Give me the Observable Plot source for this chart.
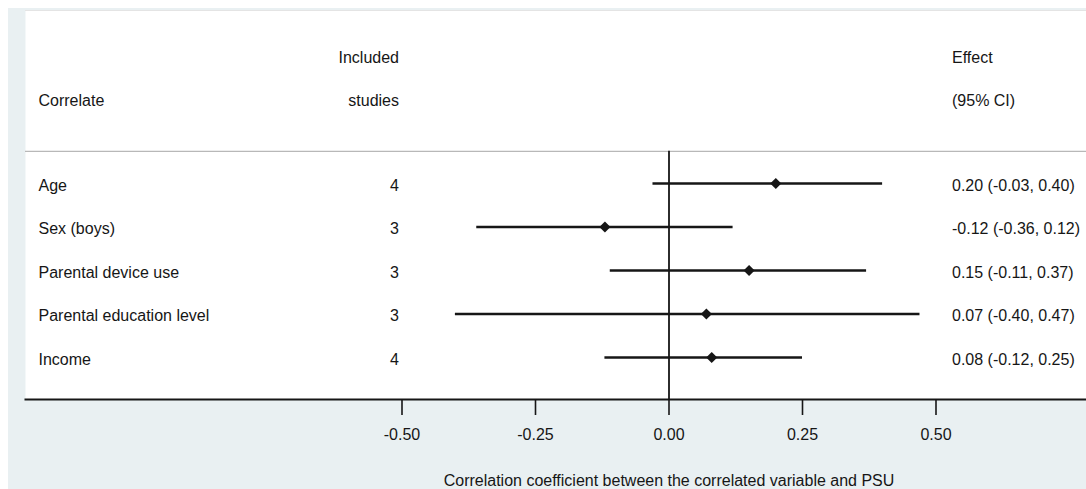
<!DOCTYPE html>
<html>
<head>
<meta charset="utf-8">
<script src="https://cdn.jsdelivr.net/npm/d3@7"></script>
<script src="https://cdn.jsdelivr.net/npm/@observablehq/plot@0.6"></script>
<style>
  html, body { margin: 0; padding: 0; background: #fff; }
</style>
</head>
<body>
<div id="chart"></div>
<script>
// ---- data ----
const correlates = ["Age", "Sex (boys)", "Parental device use", "Parental education level", "Income"];
const studies = [4, 3, 3, 3, 4];
const effects = [0.20, -0.12, 0.15, 0.07, 0.08];
const lower = [-0.03, -0.36, -0.11, -0.40, -0.12];
const upper = [0.40, 0.12, 0.37, 0.47, 0.25];
const xTicks = [-0.50, -0.25, 0.00, 0.25, 0.50];
const headerLeft = ["Included", "studies"];
const headerCorrelate = "Correlate";
const headerRight = ["Effect", "(95% CI)"];
const axisTitle = "Correlation coefficient between the correlated variable and PSU";

const fmt = v => v.toFixed(2);
const rows = correlates.map((name, i) => ({
  i, name, n: studies[i], est: effects[i], lo: lower[i], hi: upper[i],
  label: `${fmt(effects[i])} (${fmt(lower[i])}, ${fmt(upper[i])})`
}));

const ink = "#161616";
const headerSep = -0.74;   // row-index position of the header separator
const axisRow = 4.97;      // row-index position of the x axis line

const chart = Plot.plot({
  width: 1086,
  height: 489,
  marginTop: 10,
  marginLeft: 25,
  marginRight: 0,
  marginBottom: 90,
  style: {
    background: "#e9f0f2",
    boxShadow: "inset 8px 8px 0 0 #ffffff",
    fontFamily: "'Liberation Sans', Arial, sans-serif",
    fontSize: "16px",
    color: ink
  },
  x: { domain: [-0.5, 0.5], range: [401.5, 935.5] },
  y: { domain: [0, 4], range: [183, 357], axis: null },
  marks: [
    Plot.frame({ fill: "white", stroke: null }),
    Plot.frame({ anchor: "top", stroke: "#e4e4e4" }),
    Plot.ruleY([headerSep], { stroke: "#b8b8b8", strokeWidth: 1.2 }),
    // header texts
    Plot.text([headerCorrelate], { frameAnchor: "top-left", dx: 13, dy: 90, lineAnchor: "middle", text: d => d, textAnchor: "start", fill: ink }),
    Plot.text([headerLeft[0]], { x: -0.5, frameAnchor: "top", dx: -3, dy: 47, lineAnchor: "middle", text: d => d, textAnchor: "end", fill: ink }),
    Plot.text([headerLeft[1]], { x: -0.5, frameAnchor: "top", dx: -3, dy: 90, lineAnchor: "middle", text: d => d, textAnchor: "end", fill: ink }),
    Plot.text([headerRight[0]], { x: 0.5, frameAnchor: "top", dx: 16, dy: 47, lineAnchor: "middle", text: d => d, textAnchor: "start", fill: ink }),
    Plot.text([headerRight[1]], { x: 0.5, frameAnchor: "top", dx: 16, dy: 90, lineAnchor: "middle", text: d => d, textAnchor: "start", fill: ink }),
    // zero line
    Plot.ruleX([0], { y1: headerSep, y2: axisRow, stroke: ink, strokeWidth: 1.8 }),
    // confidence intervals
    Plot.ruleY(rows, { y: "i", x1: "lo", x2: "hi", stroke: ink, strokeWidth: 2.6 }),
    Plot.dot(rows, { x: "est", y: "i", symbol: "diamond2", r: 5, fill: ink, stroke: null }),
    // row texts
    Plot.text(rows, { y: "i", text: "name", frameAnchor: "left", dx: 13, dy: 2, textAnchor: "start", fill: ink }),
    Plot.text(rows, { x: -0.5, y: "i", text: d => String(d.n), dx: -3, dy: 2, textAnchor: "end", fill: ink }),
    Plot.text(rows, { x: 0.5, y: "i", text: "label", dx: 16, dy: 2, textAnchor: "start", fill: ink }),
    // axis
    Plot.frame({ anchor: "bottom", stroke: ink, strokeWidth: 2 }),
    Plot.axisX({ ticks: xTicks, tickFormat: fmt, tickSize: 16, tickPadding: 13, strokeWidth: 1.6, fontSize: 16, fill: ink, stroke: ink, label: null }),
    Plot.text([axisTitle], { x: 0, frameAnchor: "bottom", dy: 81, lineAnchor: "middle", text: d => d, fill: ink })
  ]
});
document.getElementById("chart").appendChild(chart);
</script>
</body>
</html>
